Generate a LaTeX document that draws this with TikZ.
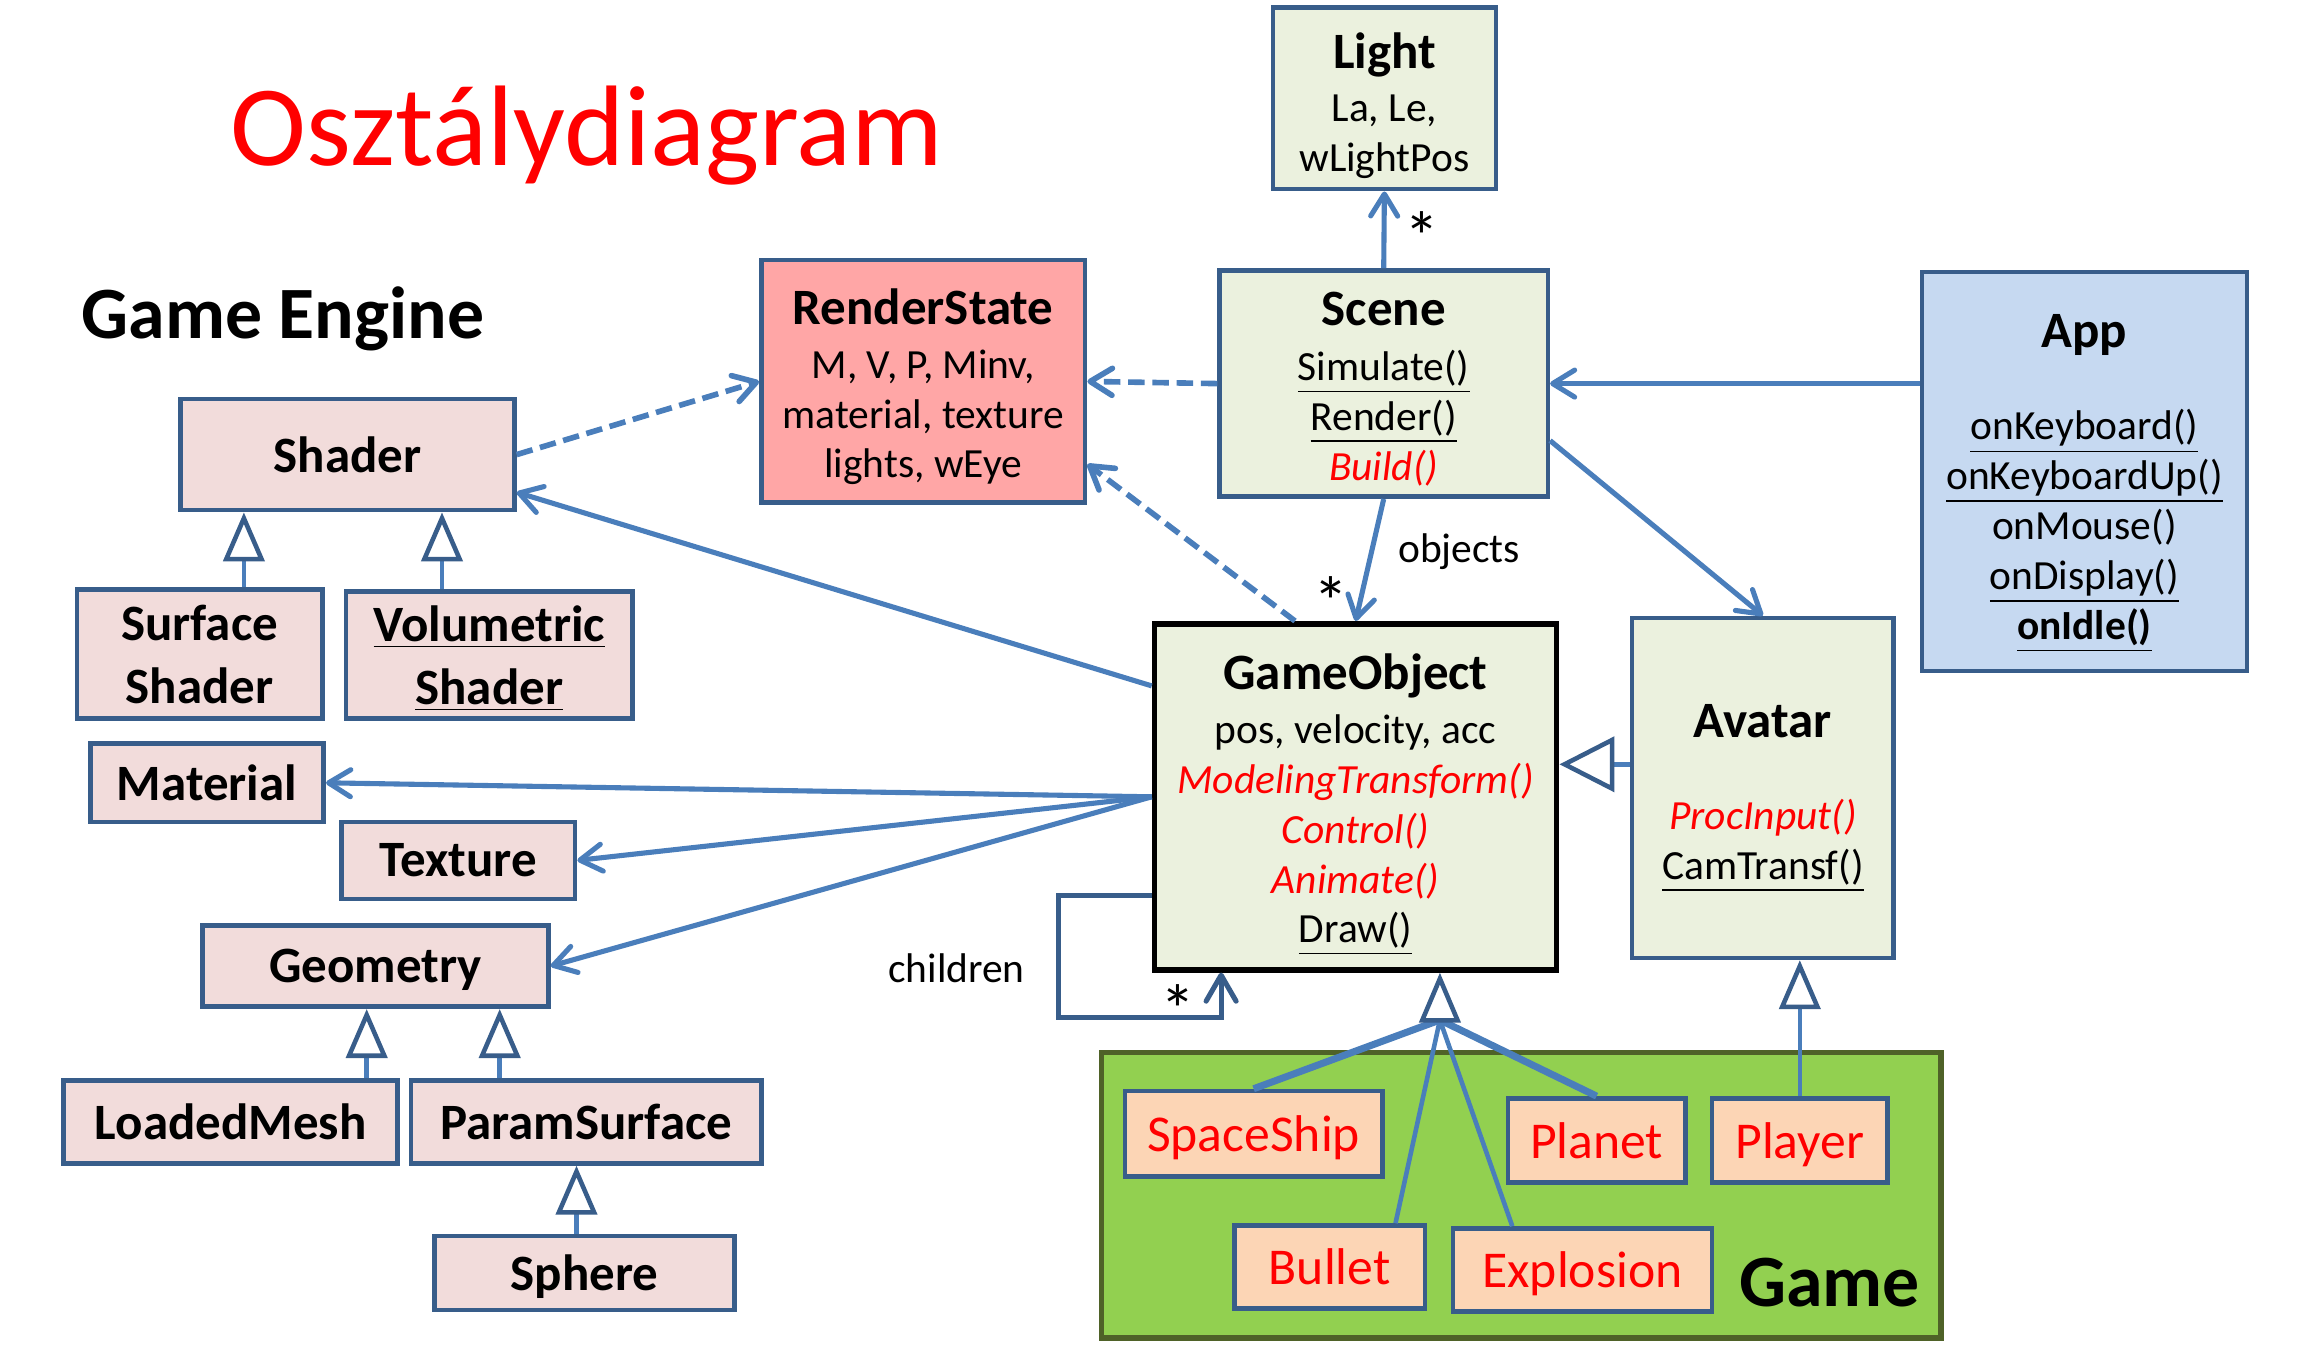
\documentclass[tikz,border=0pt]{standalone}
\usepackage{fontspec}
\setmainfont{Carlito}
\usepackage{tikz}
\usetikzlibrary{arrows.meta}

\definecolor{boxline}{HTML}{385D8A}
\definecolor{conn}{HTML}{4A7EBB}
\definecolor{corefill}{HTML}{EBF1DE}
\definecolor{engfill}{HTML}{F2DCDB}
\definecolor{statefill}{HTML}{FFA6A6}
\definecolor{appfill}{HTML}{C6D9F1}
\definecolor{gamefill}{HTML}{92D050}
\definecolor{gameline}{HTML}{4F6228}
\definecolor{objfill}{HTML}{FCD5B5}

% class name on the first line, with a strut that sets where the text block sits
\newcommand{\clsname}[2][14pt]{{\fontsize{14.5}{17}\selectfont\bfseries\rule{0pt}{#1}#2}}
\newcommand{\virtfn}[1]{{\color{red}\itshape #1}}

\tikzset{
  box/.style={draw=boxline, line width=1.3pt, align=center, inner sep=0pt},
  eng/.style={box, fill=engfill, text depth=0pt, font=\fontsize{14.5}{18}\selectfont\bfseries},
  core/.style={box, fill=corefill},
  sub/.style={box, fill=objfill, text=red, text depth=0pt, font=\fontsize{14.7}{17}\selectfont},
  mult/.style={font=\fontsize{20}{22}\selectfont},
  assoc/.style={color=conn, line width=1.45pt, -{Straight Barb[length=2.2mm,width=2.7mm,round]}},
  uses/.style={assoc, line width=1.6pt, dash pattern=on 4.7pt off 2.2pt},
  inherit/.style={color=conn, line width=1.3pt, line join=miter,
    -{Triangle[length=4.9mm,width=4.1mm,color=boxline,fill=white]}},
}

\begin{document}
\begin{tikzpicture}[font=\fontsize{11.8}{14.2}\selectfont]
  \useasboundingbox (0,0) rectangle (23.18,-13.66);

  \node[font=\fontsize{32.6}{40}\selectfont, text=red, anchor=base] (title) at (5.869,-1.656) {Osztálydiagram};
  \node[font=\fontsize{21}{25}\selectfont\bfseries, anchor=base] (engine) at (2.831,-3.385) {Game Engine};

  %% engine classes
  \node[eng, minimum width=3.34cm, minimum height=1.11cm] (shader) at (3.474,-4.546) {Shader};
  \node[eng, minimum width=2.454cm, minimum height=1.287cm] (surf) at (1.996,-6.541) {Surface\\Shader};
  \node[eng, minimum width=2.868cm, minimum height=1.272cm] (vol) at (4.893,-6.549) {\underline{Volumetric}\\\underline{Shader}};
  \node[eng, minimum width=2.335cm, minimum height=0.783cm] (material) at (2.070,-7.828) {Material};
  \node[eng, minimum width=2.336cm, minimum height=0.769cm] (texture) at (4.583,-8.604) {Texture};
  \node[eng, minimum width=3.459cm, minimum height=0.813cm] (geometry) at (3.755,-9.661) {Geometry};
  \node[eng, minimum width=3.341cm, minimum height=0.828cm] (mesh) at (2.307,-11.220) {LoadedMesh};
  \node[eng, minimum width=3.503cm, minimum height=0.828cm] (param) at (5.862,-11.220) {ParamSurface};
  \node[eng, minimum width=3.001cm, minimum height=0.739cm] (sphere) at (5.847,-12.729) {Sphere};

  \node[box, fill=statefill, minimum width=3.238cm, minimum height=2.424cm] (state) at (9.232,-3.814)
    {\clsname[13.4pt]{RenderState}\\[1pt] M, V, P, Minv,\\ material, texture\\ lights, wEye};

  \node[core, minimum width=2.232cm, minimum height=1.818cm] (light) at (13.844,-0.983)
    {\clsname[14.2pt]{Light}\\[1pt] La, Le,\\ wLightPos};
  \node[core, minimum width=3.282cm, minimum height=2.262cm] (scene) at (13.837,-3.836)
    {\clsname[12.6pt]{Scene}\\[1.5pt] \underline{Simulate()}\\ \underline{Render()}\\ \virtfn{Build()}};
  \node[box, fill=appfill, minimum width=3.252cm, minimum height=3.991cm] (app) at (20.844,-4.716)
    {\clsname[16.2pt]{App}\\[12pt] \underline{onKeyboard()}\\ \underline{onKeyboardUp()}\\ onMouse()\\
     \underline{onDisplay()}\\ \underline{\textbf{onIdle()}}};
  \node[core, draw=black, line width=1.6pt, minimum width=4.021cm, minimum height=3.46cm] (gobj) at (13.556,-7.968)
    {\clsname[14.8pt]{GameObject}\\[1pt] pos, velocity, acc\\ \virtfn{ModelingTransform()}\\ \virtfn{Control()}\\
     \virtfn{Animate()}\\ \underline{Draw()}};
  \node[core, minimum width=2.617cm, minimum height=3.4cm] (avatar) at (17.629,-7.879)
    {\clsname[15.2pt]{Avatar}\\[12pt] \virtfn{ProcInput()}\\ \underline{CamTransf()}};

  %% game
  \draw[fill=gamefill, draw=gameline, line width=1.5pt] (11.013,-10.525) rectangle (19.410,-13.379);
  \node[sub, minimum width=2.572cm, minimum height=0.857cm] (ship) at (12.536,-11.339) {SpaceShip};
  \node[sub, minimum width=1.774cm, minimum height=0.842cm] (planet) at (15.966,-11.405) {Planet};
  \node[sub, minimum width=1.759cm, minimum height=0.842cm] (player) at (17.998,-11.405) {Player};
  \node[sub, minimum width=1.907cm, minimum height=0.828cm] (bullet) at (13.297,-12.669) {Bullet};
  \node[sub, minimum width=2.587cm, minimum height=0.828cm] (explosion) at (15.825,-12.699) {Explosion};
  \node[font=\fontsize{21}{25}\selectfont\bfseries, anchor=base] (gamelbl) at (18.294,-13.068) {Game};

  %% associations
  \draw[assoc] (scene.north) -- (light.south);
  \node[mult] (lightstar) at (14.221,-2.37) {*};
  \draw[assoc] (scene.south) -- (gobj.north);
  \node (objlbl) at (14.591,-5.514) {objects};
  \node[mult] (objstar) at (13.305,-6.02) {*};
  \draw[assoc] (app.west |- scene.east) -- (scene.east);
  \draw[assoc] ([yshift=-0.57cm]scene.east) -- (avatar.north);
  \draw[uses] (scene.west) -- (state.east);
  \draw[uses] ([xshift=-0.606cm]gobj.north) -- ([yshift=-0.828cm]state.east);
  \draw[uses] (shader.east) -- (state.west);
  \draw[assoc] ([yshift=1.109cm]gobj.west) -- ([yshift=-0.377cm]shader.east);
  \draw[assoc] (gobj.west) -- (material.east);
  \draw[assoc] (gobj.west) -- (texture.east);
  \draw[assoc] (gobj.west) -- (geometry.east);
  \draw[assoc, color=boxline, -{Straight Barb[length=2.6mm,width=3mm,round]}]
    ([yshift=-0.99cm]gobj.west) -| (10.585,-10.171) -| ([xshift=-1.345cm]gobj.south);
  \node (childlbl) at (9.565,-9.683) {children};
  \node[mult] (childstar) at (11.782,-10.10) {*};

  %% inheritance
  \coordinate (ssx) at ([xshift=0.443cm]surf.north);
  \coordinate (vsx) at ([xshift=-0.473cm]vol.north);
  \coordinate (lmx) at ([xshift=1.36cm]mesh.north);
  \coordinate (psx) at ([xshift=-0.865cm]param.north);
  \coordinate (spx) at ([xshift=-0.082cm]sphere.north);
  \draw[inherit] (ssx) -- (ssx |- shader.south);
  \draw[inherit] (vsx) -- (vsx |- shader.south);
  \draw[inherit] (lmx) -- (lmx |- geometry.south);
  \draw[inherit] (psx) -- (psx |- geometry.south);
  \draw[inherit] (spx) -- (spx |- param.south);

  \coordinate (avx) at ([yshift=0.236cm]avatar.west);
  \draw[inherit, -{Triangle[length=5.5mm,width=5.5mm,color=boxline,fill=white]}] (avx) -- (avx -| gobj.east);
  \draw[inherit] (player.north) -- (player.north |- avatar.south);

  \coordinate (gbase) at (14.399,-10.2);
  \draw[color=conn, line width=2pt] (ship.north) -- (gbase) -- (planet.north);
  \draw[color=conn, line width=1.3pt] ([xshift=0.658cm]bullet.north) -- (gbase) -- ([xshift=-0.702cm]explosion.north);
  \draw[inherit, -{Triangle[length=5mm,width=4.1mm,color=boxline,fill=white]}] (gbase) -- (gbase |- gobj.south);
\end{tikzpicture}
\end{document}
